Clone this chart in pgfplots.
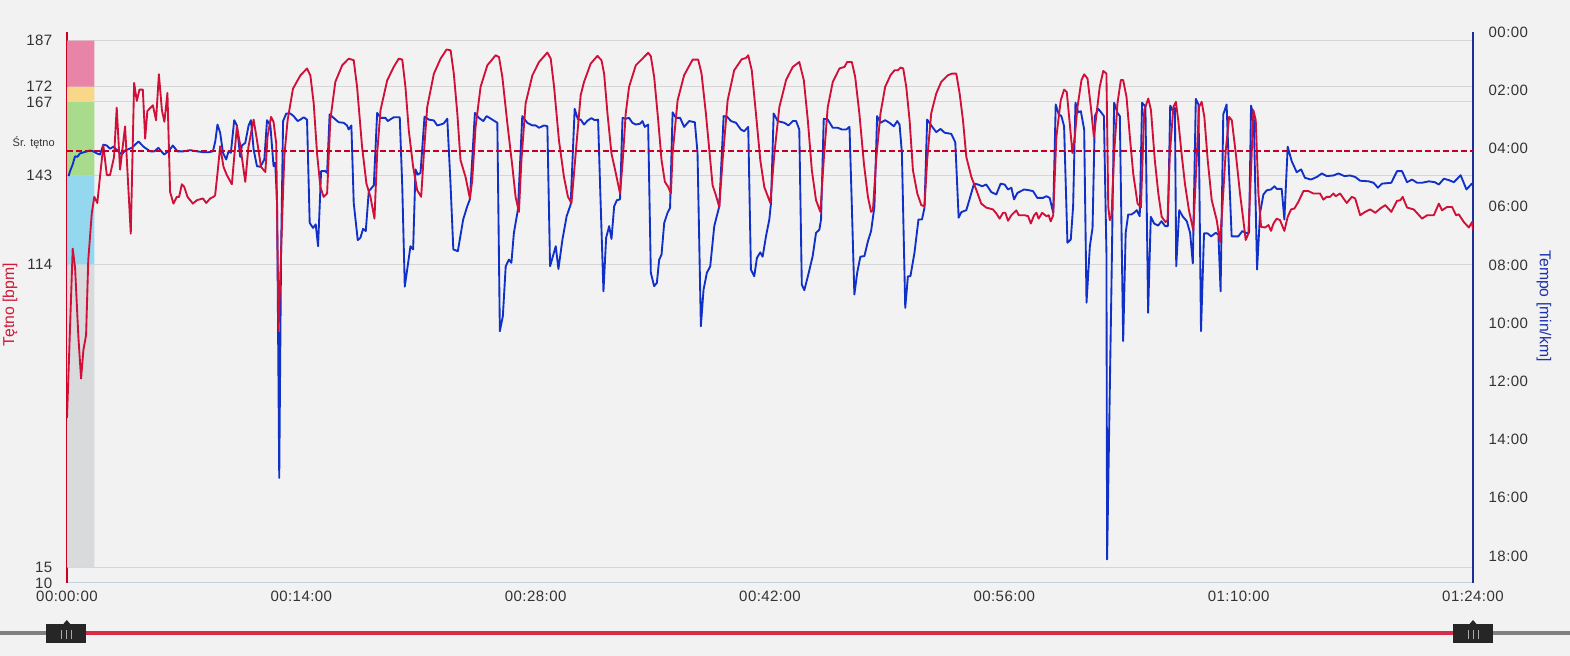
\documentclass[border=0pt]{standalone}
\usepackage{pgfplots}
\pgfplotsset{compat=1.18}
\usepackage{pgfplotstable}
\usepackage{fontspec}
\setmainfont{Liberation Sans}
\newfontfamily\tickfont[LetterSpace=3]{Liberation Sans}
\definecolor{bgcol}{RGB}{242,242,242}
\definecolor{gridcol}{RGB}{214,214,214}
\definecolor{xaxcol}{RGB}{196,208,222}
\definecolor{labcol}{RGB}{51,51,51}
\definecolor{hrline}{RGB}{208,16,56}
\definecolor{paceline}{RGB}{16,48,200}
\definecolor{hraxis}{RGB}{204,0,34}
\definecolor{paceaxis}{RGB}{26,48,150}
\definecolor{avgcol}{RGB}{196,0,40}
\definecolor{hrtitle}{RGB}{208,24,56}
\definecolor{pacetitle}{RGB}{30,50,170}
\definecolor{zpink}{RGB}{232,132,168}
\definecolor{zyellow}{RGB}{248,216,136}
\definecolor{zgreen}{RGB}{168,220,140}
\definecolor{zblue}{RGB}{148,216,240}
\definecolor{zgray}{RGB}{216,218,220}
\definecolor{slgray}{RGB}{128,128,128}
\definecolor{slred}{RGB}{216,44,70}
\definecolor{slhandle}{RGB}{38,38,38}
\definecolor{slmark}{RGB}{170,170,170}

\pgfplotstableread{
t hr
0 63.8
0.34 119.1
0.48 113.1
0.68 90.3
0.84 76.7
0.98 86.0
1.14 90.9
1.27 115.3
1.48 130.6
1.63 136.0
1.81 134.0
1.97 142.5
2.17 152.8
2.38 143.1
2.57 143.1
2.81 149.0
2.97 165.1
3.17 144.9
3.47 159.0
3.81 124.0
4.01 173.2
4.17 167.3
4.33 171.0
4.53 171.0
4.67 155.0
4.80 164.0
5.13 165.9
5.32 161.0
5.49 176.0
5.67 164.3
5.82 160.5
6.00 169.9
6.16 137.6
6.36 133.8
6.56 136.0
6.70 136.0
6.86 140.1
7.00 139.3
7.20 136.0
7.52 133.8
7.76 134.9
8.12 135.5
8.32 134.0
8.56 135.5
8.75 136.0
8.85 136.5
8.99 143.6
9.15 152.5
9.35 145.8
9.55 143.1
9.85 140.1
9.99 149.0
10.15 159.0
10.35 152.8
10.65 140.9
10.84 152.3
11.15 161.2
11.35 154.5
11.59 145.8
11.85 144.1
11.98 155.6
12.19 162.1
12.34 160.5
12.50 153.4
12.64 92.5
12.80 119.7
12.98 149.0
13.18 161.0
13.50 171.3
13.94 175.6
14.34 177.9
14.54 175.6
14.74 166.5
14.94 150.1
15.14 139.2
15.33 136.0
15.54 137.1
15.73 161.0
16.03 173.5
16.44 178.9
16.83 181.1
17.13 180.6
17.33 171.9
17.63 152.3
17.89 140.3
18.13 136.0
18.37 128.9
18.53 150.1
18.73 164.3
19.13 174.0
19.52 178.4
19.82 181.1
20.03 180.8
20.22 171.9
20.42 157.7
20.68 145.8
20.92 138.2
21.16 136.0
21.32 150.1
21.52 165.3
21.92 176.2
22.32 181.1
22.68 184.1
22.92 183.8
23.11 176.2
23.32 163.2
23.51 148.0
23.81 142.5
24.07 135.5
24.21 141.4
24.41 158.8
24.71 171.9
25.11 178.9
25.61 182.2
25.81 181.6
26.01 175.1
26.31 159.9
26.61 145.8
26.80 136.0
27.00 131.1
27.15 148.0
27.40 166.5
27.80 175.6
28.20 180.0
28.70 183.1
28.90 181.1
29.10 171.9
29.39 154.5
29.69 142.5
29.93 136.0
30.14 134.0
30.39 150.1
30.69 169.2
30.89 173.5
31.29 179.5
31.69 182.0
31.93 180.6
32.09 176.2
32.29 163.2
32.53 150.1
32.75 144.7
33.04 137.1
33.19 146.9
33.38 163.2
33.58 171.9
33.98 178.9
34.38 181.1
34.72 183.0
34.88 181.9
35.08 175.1
35.32 161.0
35.52 148.0
35.72 140.9
35.92 139.2
36.08 137.1
36.18 150.1
36.48 167.5
36.87 175.7
37.38 180.8
37.71 180.8
37.91 176.2
38.17 163.2
38.43 148.0
38.57 139.8
38.77 136.5
38.97 132.7
39.17 148.0
39.47 167.5
39.86 177.3
40.31 180.9
40.56 181.3
40.70 182.2
40.91 177.3
41.16 163.2
41.42 148.0
41.66 139.2
42.02 134.0
42.26 150.1
42.56 165.3
42.96 174.1
43.36 178.4
43.75 180.0
44.02 174.1
44.26 161.0
44.50 144.7
44.75 134.9
45.01 131.1
45.21 148.0
45.45 165.3
45.75 173.5
46.15 177.9
46.45 178.4
46.61 180.0
46.89 180.0
47.09 175.1
47.34 163.2
47.61 146.9
47.85 136.0
48.04 131.1
48.15 131.6
48.34 148.0
48.60 163.2
48.88 171.9
49.20 175.7
49.44 177.3
49.64 177.3
49.80 178.2
49.96 177.9
50.14 171.9
50.34 161.0
50.54 144.7
50.80 137.1
51.04 133.3
51.23 132.9
51.39 148.0
51.63 163.2
51.93 169.7
52.23 173.5
52.63 175.7
52.87 176.2
53.13 176.2
53.33 169.7
53.53 161.0
53.73 149.0
54.03 142.5
54.33 138.2
54.62 133.8
54.92 132.5
55.32 131.9
55.52 130.6
55.72 128.9
55.92 130.8
56.06 130.8
56.22 128.2
56.42 130.0
56.72 131.6
56.86 130.0
57.22 130.0
57.42 129.7
57.58 127.3
57.78 130.0
57.92 130.8
58.05 128.9
58.26 130.8
58.51 129.7
58.65 130.0
58.77 128.0
58.92 130.0
59.11 155.6
59.37 167.5
59.57 171.0
59.73 170.2
59.89 161.0
60.07 150.3
60.21 155.6
60.37 165.3
60.61 174.1
60.77 176.0
60.97 174.6
61.17 165.3
61.35 155.6
61.51 163.2
61.70 171.9
61.91 177.1
62.10 176.2
62.21 132.7
62.30 128.4
62.40 129.5
62.56 150.1
62.76 166.5
62.96 174.1
63.10 174.1
63.30 168.6
63.50 155.6
63.70 143.6
63.96 133.8
64.16 132.5
64.36 164.3
64.60 168.1
64.76 164.3
64.99 148.0
65.20 137.1
65.40 129.5
65.63 127.8
65.75 128.4
65.89 150.1
66.10 165.3
66.25 167.0
66.39 161.0
66.59 150.1
66.79 140.3
67.03 131.6
67.29 125.1
67.49 148.0
67.63 165.3
67.79 167.0
67.95 162.1
68.15 148.0
68.39 134.9
68.69 128.4
68.88 121.3
69.03 132.7
69.23 151.2
69.43 162.1
69.59 161.0
69.83 150.1
70.08 137.1
70.28 128.4
70.42 121.9
70.58 124.0
70.74 144.7
70.88 164.3
71.02 161.0
71.18 137.1
71.34 126.2
71.58 126.0
71.78 126.8
71.93 124.9
72.08 127.3
72.27 128.9
72.47 128.4
72.73 124.9
72.93 129.5
73.13 131.9
73.33 132.2
73.57 134.4
73.87 137.9
74.17 137.9
74.46 137.1
74.86 137.1
75.06 135.1
75.26 136.0
75.46 136.0
75.66 137.1
75.80 136.2
76.06 137.1
76.26 135.5
76.46 134.0
76.76 136.0
76.96 135.5
77.26 130.0
77.56 131.1
77.86 131.9
78.16 130.8
78.46 132.2
78.76 133.3
79.12 131.1
79.46 134.7
79.66 134.9
79.80 136.0
80.06 132.5
80.46 131.9
80.96 128.9
81.26 130.0
81.66 130.0
81.96 133.8
82.15 131.6
82.45 132.7
82.75 132.7
82.99 130.0
83.15 130.3
83.45 127.8
83.75 126.0
83.95 127.8
84.00 125.1
}\hrdata

\pgfplotstableread{
t pace
0.10 4.95
0.18 4.78
0.34 4.55
0.48 4.27
0.62 4.29
0.78 4.17
1.08 4.12
1.38 4.07
1.57 4.10
1.78 4.17
1.97 4.21
2.17 3.87
2.38 3.90
2.57 4.01
2.77 3.94
3.07 4.10
3.27 4.21
3.47 4.07
3.87 3.98
4.27 3.76
4.57 3.94
4.97 4.10
5.22 4.10
5.46 3.98
5.80 4.21
6.06 4.10
6.32 3.90
6.60 4.10
6.96 4.10
7.36 4.06
7.76 4.10
8.16 4.13
8.46 4.13
8.72 4.10
8.86 3.75
8.99 3.18
9.15 3.46
9.32 4.15
9.51 4.38
9.65 4.10
9.79 4.15
9.99 3.03
10.15 3.21
10.35 4.29
10.45 3.90
10.65 3.81
10.85 3.21
10.99 3.03
11.15 4.04
11.35 4.61
11.55 4.63
11.79 4.38
11.95 3.03
12.15 3.21
12.34 4.61
12.44 4.49
12.55 5.87
12.68 15.32
12.79 7.59
12.91 3.06
13.10 2.80
13.34 2.80
13.54 2.89
13.78 3.06
13.94 3.01
14.14 2.93
14.34 3.01
14.50 6.56
14.70 6.73
14.86 6.61
15.00 7.36
15.18 4.78
15.44 4.78
15.54 4.84
15.69 2.83
15.93 2.95
16.23 3.10
16.53 3.12
16.73 3.21
16.83 3.35
16.99 3.21
17.13 5.87
17.37 7.15
17.53 7.07
17.69 6.76
17.85 6.84
18.03 5.47
18.33 5.27
18.53 2.78
18.73 2.95
19.03 2.95
19.16 3.06
19.52 2.93
19.88 2.93
20.03 5.30
20.18 8.75
20.52 7.36
20.68 7.47
20.82 4.72
20.96 4.90
21.12 4.84
21.36 2.91
21.62 3.01
21.92 3.04
22.12 3.21
22.32 3.18
22.51 3.14
22.72 2.98
22.91 5.18
23.08 7.47
23.35 7.53
23.67 6.44
23.91 5.99
24.07 5.75
24.37 2.78
24.61 2.95
24.87 3.06
25.07 2.89
25.41 3.01
25.71 3.12
25.86 10.28
26.04 9.76
26.21 8.05
26.40 7.82
26.55 7.93
26.70 6.90
26.94 6.10
27.20 2.89
27.50 3.12
27.80 3.21
28.00 3.21
28.20 3.29
28.50 3.21
28.70 3.24
28.86 8.05
29.20 7.36
29.36 8.14
29.60 7.13
29.85 6.33
30.09 5.93
30.33 2.64
30.53 3.01
30.69 3.01
30.89 3.18
31.11 3.04
31.33 2.96
31.53 3.03
31.73 3.01
31.85 5.30
32.05 8.91
32.21 7.07
32.39 6.67
32.53 7.11
32.69 5.99
32.85 5.78
33.04 5.75
33.19 2.95
33.38 2.98
33.58 2.95
33.78 3.12
33.98 3.18
34.24 3.15
34.38 3.06
34.52 3.26
34.72 3.18
34.88 8.27
35.08 8.73
35.24 8.62
35.38 7.82
35.52 7.65
35.68 6.56
35.88 6.21
36.03 6.04
36.18 2.76
36.38 2.95
36.63 2.95
36.87 3.26
37.17 3.06
37.51 3.10
37.67 4.15
37.87 10.11
38.03 8.85
38.23 8.27
38.43 8.05
38.67 6.67
38.97 5.99
39.23 2.89
39.43 2.91
39.67 3.06
39.97 3.12
40.26 3.35
40.46 3.41
40.70 3.26
40.86 8.16
41.06 8.39
41.22 7.76
41.42 7.57
41.56 7.72
41.76 7.02
41.96 6.44
42.06 5.87
42.22 2.80
42.46 3.06
42.86 3.12
43.10 3.21
43.36 3.06
43.56 3.06
43.75 3.35
43.90 8.68
44.05 8.87
44.29 8.33
44.55 7.70
44.75 6.90
44.95 6.79
45.05 6.44
45.21 2.98
45.45 3.01
45.75 3.29
46.05 3.29
46.29 3.35
46.55 3.35
46.75 3.26
46.89 5.99
47.04 9.02
47.21 8.27
47.40 7.72
47.64 7.70
47.85 7.19
48.04 6.84
48.24 5.99
48.40 2.89
48.60 3.12
48.88 3.03
49.14 3.12
49.40 3.24
49.60 3.06
49.74 3.18
49.88 4.15
50.08 9.48
50.24 8.39
50.39 8.39
50.63 7.59
50.87 6.44
51.08 6.44
51.23 6.04
51.39 3.01
51.67 3.24
51.93 3.44
52.19 3.33
52.43 3.46
52.83 3.50
53.07 3.79
53.27 6.38
53.43 6.19
53.73 6.12
53.92 5.75
54.19 5.21
54.43 5.24
54.67 5.30
54.92 5.24
55.22 5.50
55.52 5.58
55.78 5.21
56.02 5.24
56.22 5.41
56.42 5.35
56.58 5.75
56.78 5.53
57.18 5.41
57.51 5.44
57.72 5.47
57.97 5.70
58.31 5.70
58.51 5.64
58.71 5.70
58.92 6.21
59.07 2.49
59.25 2.83
59.41 2.89
59.57 3.24
59.77 7.24
59.97 7.13
60.11 5.99
60.25 2.43
60.41 2.76
60.57 2.72
60.77 3.35
60.91 9.30
61.11 7.36
61.27 6.73
61.41 2.89
61.61 2.64
61.81 2.78
61.95 2.89
62.10 7.59
62.14 18.12
62.40 8.73
62.56 2.43
62.76 2.78
62.90 2.89
63.10 10.62
63.25 6.90
63.40 6.27
63.59 6.27
63.75 6.21
63.91 6.12
64.09 6.33
64.23 2.43
64.43 2.57
64.59 9.65
64.75 6.35
64.95 6.58
65.19 6.65
65.39 6.50
65.61 6.67
65.77 6.67
65.91 2.53
66.05 2.69
66.19 2.61
66.27 8.05
66.45 6.12
66.65 6.33
66.90 6.50
67.10 6.90
67.26 7.95
67.44 2.30
67.60 2.49
67.75 10.28
67.93 6.92
68.15 6.92
68.35 7.02
68.63 6.90
68.79 6.96
68.92 8.91
69.08 2.83
69.28 2.49
69.42 4.72
69.58 7.02
69.98 7.02
70.22 6.84
70.42 6.90
70.62 6.90
70.74 2.53
70.90 2.89
71.10 8.16
71.28 6.21
71.48 5.58
71.68 5.44
71.93 5.41
72.14 5.30
72.27 5.39
72.57 5.39
72.73 6.44
72.93 3.94
73.17 4.44
73.47 4.82
73.73 4.72
73.96 5.01
74.32 5.07
74.67 4.98
74.97 4.86
75.26 4.95
75.66 4.93
75.96 4.86
76.32 4.95
76.66 4.93
76.96 4.98
77.26 5.11
77.76 5.13
78.06 5.18
78.32 5.35
78.56 5.21
79.12 5.18
79.46 4.78
79.76 4.78
80.06 5.16
80.36 5.07
80.66 5.18
80.96 5.18
81.36 5.13
81.72 5.16
81.96 5.24
82.26 5.04
82.56 5.09
82.86 5.16
83.26 4.92
83.61 5.41
83.93 5.21
84.00 5.27
}\pacedata

\begin{document}
\begin{tikzpicture}
\path[use as bounding box, fill=bgcol] (0pt,0pt) rectangle (1177.5pt,492pt);

% left (heart-rate) axis: grid, zones, ticks
\begin{axis}[
  at={(50.25pt,54.75pt)}, anchor=south west,
  scale only axis, width=1054.5pt, height=413.25pt,
  xmin=0, xmax=84, ymin=10, ymax=189.8,
  axis x line*=bottom, axis y line*=left,
  x axis line style={draw=xaxcol, line width=0.75pt},
  y axis line style={draw=hraxis, line width=1.5pt},
  xtick={0,14,28,42,56,70,84},
  xticklabels={00:00:00,00:14:00,00:28:00,00:42:00,00:56:00,01:10:00,01:24:00},
  ytick={10,15,114,143,167,172,187},
  yticklabels={10,15,114,143,167,172,187},
  ymajorgrids, major grid style={draw=gridcol, line width=0.75pt},
  major tick length=0pt,
  tick label style={font=\tickfont\fontsize{11.25}{13}\selectfont, text=labcol},
  yticklabel style={xshift=-7.5pt},
  xticklabel style={yshift=-2.75pt},
]
\addplot[draw=none, fill=zgray] coordinates {(0,15) (1.63,15) (1.63,114) (0,114) (0,15)};
\addplot[draw=none, fill=zblue] coordinates {(0,114) (1.63,114) (1.63,143) (0,143) (0,114)};
\addplot[draw=none, fill=zgreen] coordinates {(0,143) (1.63,143) (1.63,167) (0,167) (0,143)};
\addplot[draw=none, fill=zyellow] coordinates {(0,167) (1.63,167) (1.63,172) (0,172) (0,167)};
\addplot[draw=none, fill=zpink] coordinates {(0,172) (1.63,172) (1.63,187) (0,187) (0,172)};
\end{axis}

% right (pace) axis with the pace series
\begin{axis}[
  at={(50.25pt,54.75pt)}, anchor=south west,
  scale only axis, width=1054.5pt, height=413.25pt,
  xmin=0, xmax=84, ymin=0, ymax=18.93, y dir=reverse,
  axis x line=none, axis y line*=right,
  xtick=\empty,
  y axis line style={draw=paceaxis, line width=1.5pt},
  ytick={0,2,4,6,8,10,12,14,16,18},
  yticklabels={00:00,02:00,04:00,06:00,08:00,10:00,12:00,14:00,16:00,18:00},
  major tick length=0pt,
  tick label style={font=\tickfont\fontsize{11.25}{13}\selectfont, text=labcol},
  yticklabel style={xshift=8.25pt},
]
\addplot[paceline, line width=1.4pt, line join=round] table[x=t, y=pace] {\pacedata};
\end{axis}

% heart-rate series and average line on top
\begin{axis}[
  at={(50.25pt,54.75pt)}, anchor=south west,
  scale only axis, width=1054.5pt, height=413.25pt,
  xmin=0, xmax=84, ymin=10, ymax=189.8,
  hide axis,
]
\addplot[hrline, line width=1.4pt, line join=round] table[x=t, y=hr] {\hrdata};
\addplot[avgcol, line width=1.3pt, dash pattern=on 4.5pt off 2.2pt] coordinates {(0,151.0) (84,151.0)};
\end{axis}

% labels
\node[anchor=base east, font=\fontsize{8.25}{10}\selectfont, text=labcol, inner sep=0pt] at (41.25pt,382.1pt) {Śr. tętno};
\node[rotate=90, font=\fontsize{11.8}{14}\selectfont, text=hrtitle] at (7.5pt,263.25pt) {Tętno [bpm]};
\node[rotate=-90, font=\fontsize{11.8}{14}\selectfont, text=pacetitle] at (1158pt,262.5pt) {Tempo [min/km]};

% range slider
\draw[slgray, line width=3.7pt] (0pt,17.25pt) -- (1177.5pt,17.25pt);
\draw[slred, line width=3.7pt] (50.1pt,17.25pt) -- (1104.75pt,17.25pt);
\fill[slhandle] (34.8pt,9.5pt) rectangle (64.3pt,24pt);
\fill[slhandle] (47.1pt,23.5pt) -- (50.1pt,27pt) -- (53.1pt,23.5pt) -- cycle;
\fill[slhandle] (1090pt,9.5pt) rectangle (1119.5pt,24pt);
\fill[slhandle] (1101.75pt,23.5pt) -- (1104.75pt,27pt) -- (1107.75pt,23.5pt) -- cycle;
\foreach \cx in {50.1,1104.75}{
  \foreach \dx in {-3.75,0,3.75}{
    \draw[slmark, line width=0.75pt] ({\cx pt+\dx pt},12.8pt) -- ({\cx pt+\dx pt},19.8pt);
  }
}
\end{tikzpicture}
\end{document}
